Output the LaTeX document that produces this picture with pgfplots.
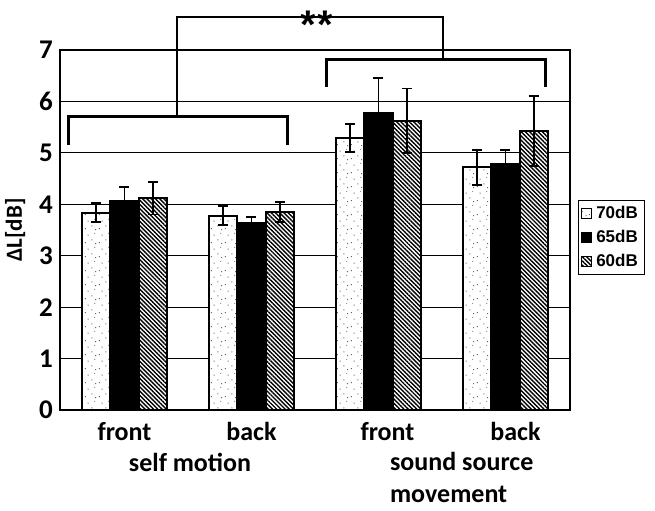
\documentclass[border=0pt]{standalone}
\usepackage{pgfplots}
\pgfplotsset{compat=1.18}
\usepackage{pgfplotstable}
\usepackage{fontspec}
\setmainfont{Carlito}
\newfontfamily\legfont{Liberation Sans}
\usetikzlibrary{patterns,patterns.meta}

\pgfdeclarepatternformonly{sparsedots}{\pgfqpoint{0pt}{0pt}}{\pgfqpoint{14pt}{14pt}}{\pgfqpoint{14pt}{14pt}}{%
  \pgfpathrectangle{\pgfqpoint{1pt}{2pt}}{\pgfqpoint{1pt}{1pt}}%
  \pgfpathrectangle{\pgfqpoint{8pt}{5pt}}{\pgfqpoint{1pt}{1pt}}%
  \pgfpathrectangle{\pgfqpoint{4pt}{10pt}}{\pgfqpoint{1pt}{1pt}}%
  \pgfpathrectangle{\pgfqpoint{11pt}{12pt}}{\pgfqpoint{1pt}{1pt}}%
  \pgfpathrectangle{\pgfqpoint{12pt}{1pt}}{\pgfqpoint{1pt}{1pt}}%
  \pgfusepath{fill}}

\pgfplotstableread{
x y e
0 3.84 0.19
1 3.78 0.18
2 5.29 0.27
3 4.72 0.34
}\dataA
\pgfplotstableread{
x y e
0 4.07 0.27
1 3.64 0.12
2 5.78 0.68
3 4.79 0.26
}\dataB
\pgfplotstableread{
x y e
0 4.12 0.32
1 3.85 0.19
2 5.62 0.63
3 5.43 0.68
}\dataC

\begin{document}
\begin{tikzpicture}
\begin{axis}[
  scale only axis, width=510pt, height=360pt,
  xmin=-0.508, xmax=3.508, ymin=0, ymax=7,
  ytick={0,1,2,3,4,5,6,7},
  xtick={0,1,2,3},
  xticklabels={front,back,\hspace*{18pt}front,\hspace*{20pt}back},
  major tick length=0pt,
  ymajorgrids, grid style={black, line width=0.8pt},
  axis line style={line width=1.5pt},
  /pgf/number format/assume math mode=true,
  yticklabel style={font=\bfseries\fontsize{27}{27}\selectfont, inner sep=0pt, xshift=-7pt},
  xticklabel style={font=\bfseries\fontsize{26}{26}\selectfont, inner sep=0pt, anchor=base, yshift=-30pt},
  ylabel={ΔL[dB]},
  ylabel style={font=\bfseries\fontsize{23}{23}\selectfont, at={(axis description cs:-0.088,0.5)}, anchor=center},
  ybar=0pt, bar width=0.224,
  clip=false,
  error bars/y dir=both, error bars/y explicit,
  error bars/error mark=|,
  error bars/error bar style={line width=1.5pt, black},
  error bars/error mark options={line width=1.8pt, black, mark size=5pt},
  legend style={at={(axis description cs:1.0157,0.583)}, anchor=north west,
    draw=black, line width=1pt, font=\legfont\bfseries\fontsize{17}{17}\selectfont,
    inner xsep=3pt, inner ysep=4pt, row sep=6pt, cells={anchor=west},
    nodes={inner xsep=4pt}},
  legend cell align=left,
  mylegend/.style={legend image code/.code={\draw[##1, line width=0.8pt] (0pt,-5pt) rectangle (10pt,5pt);}},
]
\addplot[draw=black, line width=2pt, fill=white, postaction={pattern=sparsedots, pattern color=black!60}, mylegend]
  table[x=x, y=y, y error=e] {\dataA};
\addplot[draw=black, line width=2pt, fill=black, mylegend]
  table[x=x, y=y, y error=e] {\dataB};
\addplot[draw=black, line width=2pt, fill=white, postaction={pattern={Lines[angle=-45, distance=3pt, line width=1.4pt]}}, mylegend]
  table[x=x, y=y, y error=e] {\dataC};
\legend{70dB,65dB,60dB}

\draw[line width=3pt] (axis cs:-0.437,5.15) |- (axis cs:1.287,5.70) -- (axis cs:1.287,5.15);
\draw[line width=3pt] (axis cs:1.594,6.28) |- (axis cs:3.319,6.82) -- (axis cs:3.319,6.28);
\draw[line width=2.2pt] (axis cs:0.413,5.70) |- (axis cs:2.508,7.64) -- (axis cs:2.508,6.82);
\node[font=\legfont\bfseries\fontsize{40}{40}\selectfont, anchor=base, inner sep=0pt] at (axis cs:1.516,7.22) {*\kern1pt*};

\node[font=\bfseries\fontsize{26}{26}\selectfont, anchor=base, inner sep=0pt] at (axis cs:0.516,-1.205) {self motion};
\node[font=\bfseries\fontsize{26}{26}\selectfont, anchor=base west, inner sep=0pt] at (axis cs:2.09,-1.167) {sound source};
\node[font=\bfseries\fontsize{26}{26}\selectfont, anchor=base west, inner sep=0pt] at (axis cs:2.09,-1.789) {movement};

\path (rel axis cs:-0.1176,-0.278) rectangle (rel axis cs:1.1667,1.1389);
\end{axis}
\end{tikzpicture}
\end{document}
